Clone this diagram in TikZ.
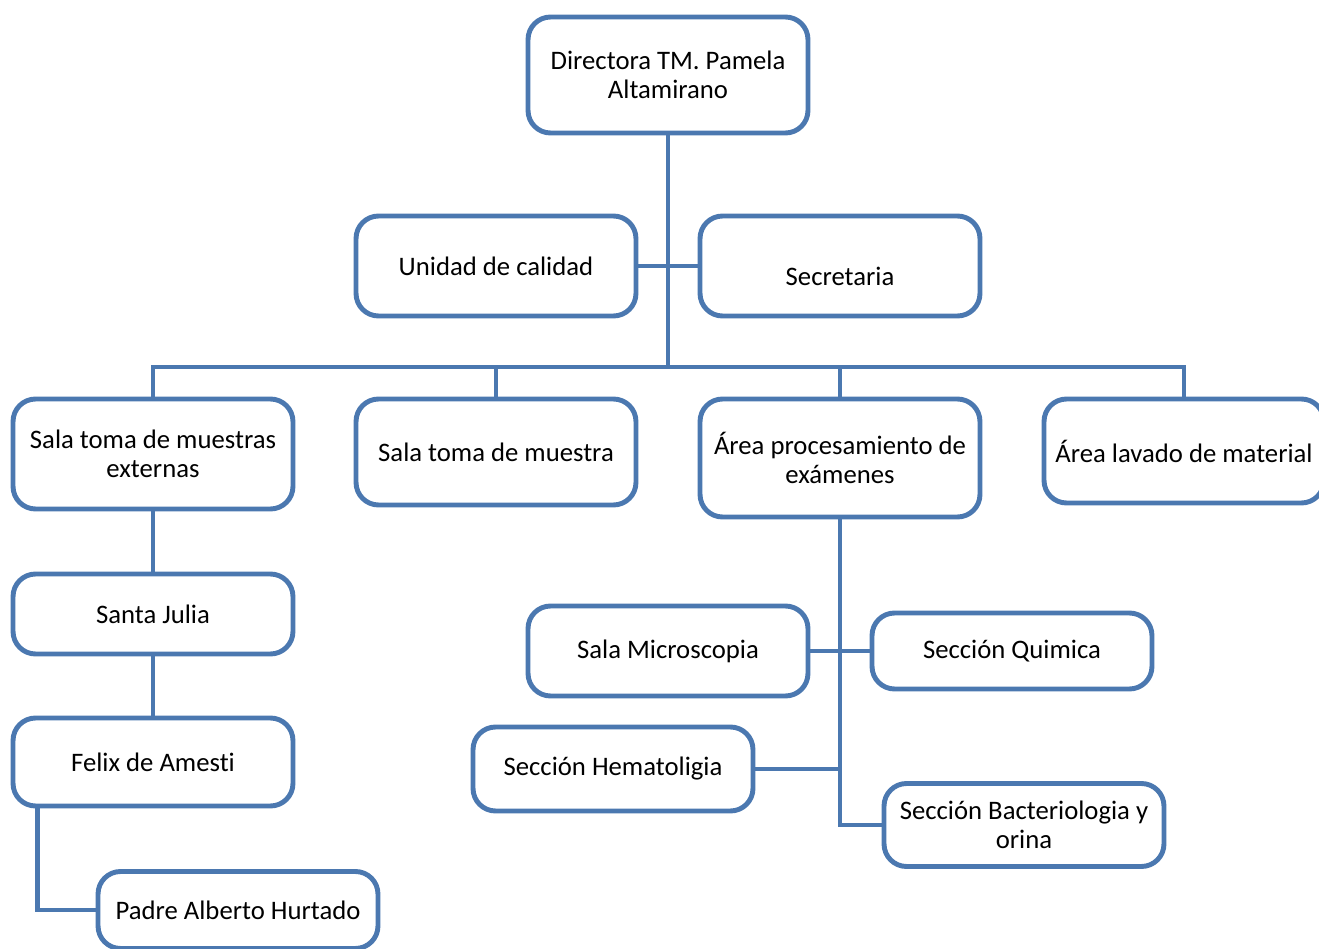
\documentclass[tikz,border=0pt]{standalone}
\usepackage{fontspec}
\setmainfont{Carlito}[Ligatures=NoCommon]
\usepackage{tikz}
\usetikzlibrary{positioning}
\definecolor{orgblue}{RGB}{75,120,176}

\begin{document}
\begin{tikzpicture}[x=0.02cm, y=-0.02cm,
    unit/.style={draw=orgblue, line width=2.8pt, rounded corners=0.45cm, fill=white,
        minimum width=5.6cm, inner sep=2pt, align=center,
        font=\fontsize{15.2}{16.5}\selectfont},
    link/.style={draw=orgblue, line width=2.8pt}]
    \useasboundingbox (0,0) rectangle (1319,949);
    % Direction
    \node[unit, minimum height=2.32cm] (dir) at (668,75) {Directora TM. Pamela\\Altamirano};
    \node[unit, minimum height=2cm] (cal) at (496,266) {Unidad de calidad};
    \node[unit, minimum height=2cm] (sec) at (840,266) {\rule{0pt}{22pt}Secretaria};
    % Areas
    \node[unit, minimum height=2.2cm] (ext) at (153,454) {Sala toma de muestras\\externas};
    \node[unit, minimum height=2.12cm] (sala) at (496,452) {Sala toma de muestra};
    \node[unit, minimum height=2.36cm] (proc) at (840,458) {Área procesamiento de\\exámenes};
    \node[unit, minimum height=2.08cm] (lav) at (1184,451) {Área lavado de material};
    % External rooms
    \node[unit, minimum height=1.6cm] (sj) at (153,614) {Santa Julia};
    \node[unit, minimum height=1.76cm] (fel) at (153,762) {Felix de Amesti};
    \node[unit, minimum height=1.54cm] (pad) at (238,910) {Padre Alberto Hurtado};
    % Sections
    \node[unit, minimum height=1.8cm] (mic) at (668,651) {Sala Microscopia};
    \node[unit, minimum height=1.52cm] (qui) at (1012,651) {Sección Quimica};
    \node[unit, minimum height=1.68cm] (hem) at (613,769) {Sección Hematoligia};
    \node[unit, minimum height=1.66cm] (bac) at (1024,825) {Sección Bacteriologia y\\orina};

    \coordinate (bus) at (668,367);
    % Links
    \draw[link] (dir) -- (bus);
    \draw[link] (cal.east) -- (sec.west);
    \draw[link] (ext.north) -- (ext.north |- bus) -- (lav.north |- bus) -- (lav.north);
    \draw[link] (sala.north) -- (sala.north |- bus);
    \draw[link] (proc.north) -- (proc.north |- bus);
    \draw[link] (ext) -- (sj);
    \draw[link] (sj) -- (fel);
    \draw[link] ([xshift=0.53cm]fel.south west) |- (pad.west);
    \draw[link] (proc.south) |- (bac.west);
    \draw[link] (mic.east) -- (qui.west);
    \draw[link] (hem.east) -- (hem.east -| proc.south);
\end{tikzpicture}
\end{document}
